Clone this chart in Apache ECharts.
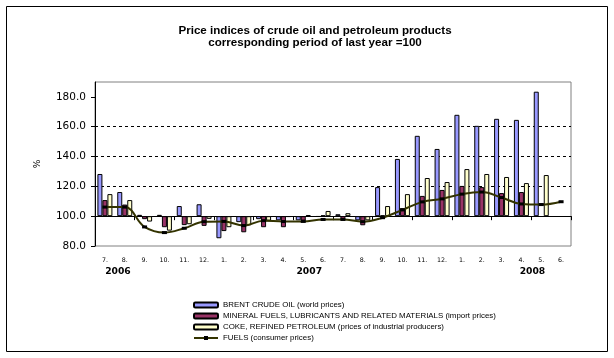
<!DOCTYPE html>
<html><head><meta charset="utf-8">
<script src="https://cdn.jsdelivr.net/npm/echarts@6/dist/echarts.min.js"></script>
<style>html,body{margin:0;padding:0;background:#fff}#c{width:614px;height:358px}</style>
</head><body><div id="c"></div>
<script>
// Categories (month labels, Jul 2006 - Jun 2008)
const months = ['7.','8.','9.','10.','11.','12.','1.','2.','3.','4.','5.','6.','7.','8.','9.','10.','11.','12.','1.','2.','3.','4.','5.','6.'];
const years = ['2006','2007','2008'];
const yearIndex = [0, 10, 21];
const yearShift = [26, 12, 22];

// Series values (corresponding period of last year = 100)
const brent   = [128.3,116.2,100.9,100.9,106.8,108.0,85.2,96.0,98.0,97.2,97.2,99.6,101.3,97.2,119.5,138.4,153.9,145.1,168.0,160.6,165.3,164.6,183.5,null];
const mineral = [110.8,107.8,98.0,92.6,94.0,93.5,90.0,89.2,92.6,92.6,97.0,100.5,98.0,93.9,100.5,105.4,113.6,117.6,120.3,119.5,115.5,116.2,null,null];
const coke    = [114.8,110.8,96.4,90.3,94.6,98.2,92.6,93.9,97.0,99.5,100.8,103.5,102.0,97.2,106.8,114.8,125.6,122.9,131.6,128.3,126.3,122.2,127.6,null];
const fuels   = [106.1,106.1,92.8,89.0,91.9,96.3,96.5,93.7,97.0,96.4,96.5,97.8,97.8,96.3,99.0,104.2,109.6,111.6,114.8,116.2,112.5,108.2,107.8,109.7];

const names = ['BRENT CRUDE OIL (world prices)','MINERAL FUELS, LUBRICANTS AND RELATED MATERIALS (import prices)','COKE, REFINED PETROLEUM (prices of industrial producers)','FUELS (consumer prices)'];

const BASE = 100; // category axis crosses the value axis at 100
const shift = a => a.map(v => v == null ? null : +(v - BASE).toFixed(2));

const chart = echarts.init(document.getElementById('c'));
const barStyle = c => ({color: c, borderColor: '#000', borderWidth: 1});

const yearRich = {};
years.forEach((y, i) => { yearRich['y' + i] = {fontFamily: 'DejaVu Sans', fontWeight: 'bold', fontSize: 9.2, color: '#000', padding: [0, 0, 0, yearShift[i]]}; });

chart.setOption({
  animation: false,
  backgroundColor: '#fff',
  title: {
    text: 'Price indices of crude oil and petroleum products\ncorresponding period of last year =100',
    left: 315, top: 25, padding: 0, textAlign: 'center',
    textStyle: {fontFamily: 'Liberation Sans, Arial', fontWeight: 'bold', fontSize: 11.6, lineHeight: 12, color: '#000'}
  },
  graphic: [{type: 'rect', silent: true, z: 100, shape: {x: 6.5, y: 6.5, width: 601, height: 345}, style: {fill: 'none', stroke: '#000', lineWidth: 1}}],
  legend: {
    orient: 'vertical', left: 193, top: 300, padding: 0,
    itemWidth: 24, itemHeight: 5, itemGap: 1,
    data: names,
    textStyle: {fontFamily: 'Liberation Sans, Arial', fontSize: 7.9, lineHeight: 10, color: '#000'}
  },
  grid: {left: 95, top: 82, right: 43, bottom: 112, show: true, borderColor: '#808080', borderWidth: 1, backgroundColor: '#fff'},
  xAxis: [
    {type: 'category', data: months, axisLine: {onZero: true, lineStyle: {color: '#000', width: 1}},
     axisTick: {show: true, length: 4, lineStyle: {color: '#000'}}, axisLabel: {show: false}, splitLine: {show: false}},
    {type: 'category', data: months, position: 'bottom', axisLine: {show: false, onZero: false}, axisTick: {show: false},
     axisLabel: {margin: 11, fontFamily: 'DejaVu Sans', fontSize: 6.3, color: '#000', interval: 0}},
    {type: 'category', data: months, position: 'bottom', axisLine: {show: false, onZero: false}, axisTick: {show: false},
     axisLabel: {margin: 21, interval: 0, color: '#000', rich: yearRich,
       formatter: (v, idx) => { const k = yearIndex.indexOf(idx); return k < 0 ? '' : '{y' + k + '|' + years[k] + '}'; }}}
  ],
  yAxis: {
    type: 'value', min: -20, max: 90, interval: 20,
    name: '%', nameLocation: 'middle', nameGap: 53, nameRotate: 90,
    nameTextStyle: {fontFamily: 'DejaVu Sans', fontSize: 9, color: '#000'},
    axisLine: {show: true, lineStyle: {color: '#000'}},
    axisTick: {show: true, length: 4, lineStyle: {color: '#000'}, customValues: [-20, 0, 20, 40, 60, 80]},
    axisLabel: {margin: 9, fontFamily: 'DejaVu Sans', fontSize: 10.5, color: '#000', customValues: [-20, 0, 20, 40, 60, 80],
      formatter: v => (v + BASE).toFixed(1)},
    splitLine: {show: true, showMinLine: false, showMaxLine: false, lineStyle: {color: '#000', type: [3, 3], width: 1}}
  },
  series: [
    {name: names[0], type: 'bar', data: shift(brent), barWidth: 5, barGap: '0%', itemStyle: barStyle('#9999FF')},
    {name: names[1], type: 'bar', data: shift(mineral), barWidth: 5, barGap: '0%', itemStyle: barStyle('#993366')},
    {name: names[2], type: 'bar', data: shift(coke), barWidth: 5, barGap: '0%', itemStyle: barStyle('#FFFFCC')},
    {name: names[3], type: 'line', data: shift(fuels), smooth: 0.4, z: 5,
     symbol: 'rect', symbolSize: [5, 3], showAllSymbol: true,
     lineStyle: {color: '#333300', width: 2}, itemStyle: {color: '#000'}}
  ]
});
</script></body></html>
